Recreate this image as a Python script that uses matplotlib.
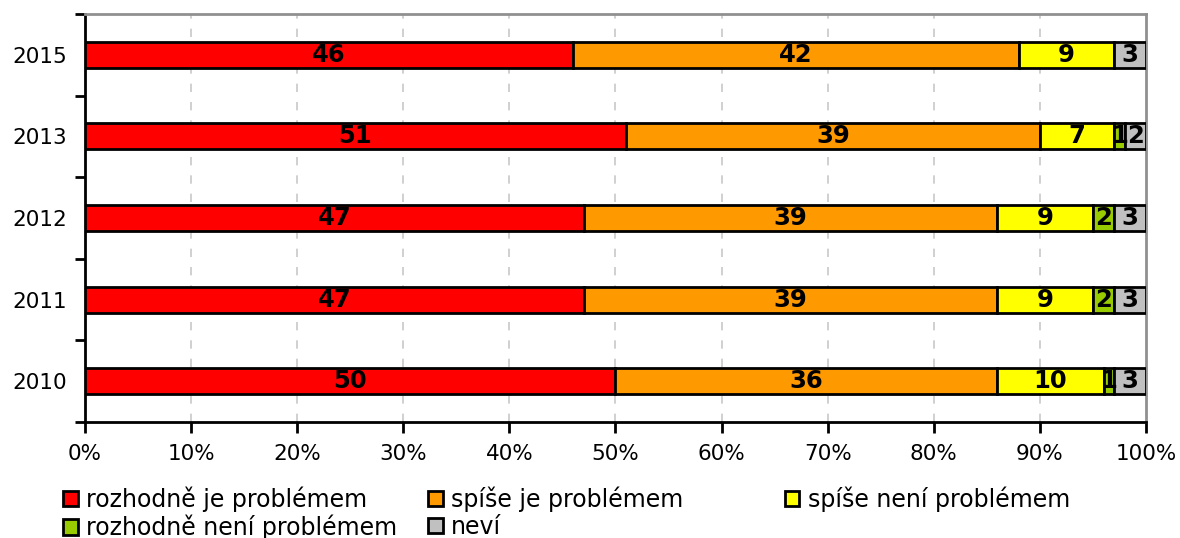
import matplotlib.pyplot as plt
import matplotlib.patches as mpatches
import numpy as np

years = ["2015", "2013", "2012", "2011", "2010"]
categories = [
    "rozhodně je problémem",
    "spíše je problémem",
    "spíše není problémem",
    "rozhodně není problémem",
    "neví",
]
rozhodne_je = [46, 51, 47, 47, 50]
spise_je = [42, 39, 39, 39, 36]
spise_neni = [9, 7, 9, 9, 10]
rozhodne_neni = [0, 1, 2, 2, 1]
nevi = [3, 2, 3, 3, 3]
colors = ["#FF0000", "#FF9900", "#FFFF00", "#99CC00", "#C0C0C0"]

series = [rozhodne_je, spise_je, spise_neni, rozhodne_neni, nevi]

plt.rcParams["font.family"] = ["DejaVu Sans"]

fig = plt.figure(figsize=(11.8, 5.38), dpi=100)
ax = fig.add_axes([0.072, 0.2156, 0.8992, 0.7584])

y = np.arange(len(years))
left = np.zeros(len(years))
handles = []
for vals, col, name in zip(series, colors, categories):
    vals = np.array(vals, dtype=float)
    ax.barh(y, vals, left=left, height=0.32, color=col,
            edgecolor="black", linewidth=2, zorder=3)
    for yi, l, v in zip(y, left, vals):
        if v > 0:
            ax.text(l + v / 2, yi, f"{v:.0f}", ha="center", va="center",
                    fontsize=17.5, fontweight="bold", color="black", zorder=4)
    left += vals
    handles.append(mpatches.Patch(facecolor=col, edgecolor="black",
                                  linewidth=2, label=name))

ax.set_xlim(0, 100)
ax.set_ylim(len(years) - 0.5, -0.5)

ax.set_xticks(np.arange(0, 101, 10))
ax.set_xticklabels([f"{v}%" for v in range(0, 101, 10)])
ax.tick_params(axis="x", direction="out", length=8, width=2,
               labelsize=15.5, pad=8, color="black")

ax.set_yticks(y)
ax.set_yticklabels(years)
ax.set_yticks(np.arange(-0.5, len(years)), minor=True)
ax.tick_params(axis="y", which="major", length=0, labelsize=15.5, pad=13)
ax.tick_params(axis="y", which="minor", direction="out", length=7, width=2)

for xv in range(10, 100, 10):
    ax.axvline(xv, color="#C8C8C8", linestyle=(0, (5, 6)), linewidth=1.2,
               zorder=1)

ax.spines["left"].set_linewidth(2)
ax.spines["bottom"].set_linewidth(2)
ax.spines["top"].set_color("#909090")
ax.spines["top"].set_linewidth(2)
ax.spines["right"].set_color("#909090")
ax.spines["right"].set_linewidth(2)

# legend in three columns, filled row by row
legend_cols = [[handles[0], handles[3]], [handles[1], handles[4]], [handles[2]]]
col_x = [0.0534, 0.3627, 0.665]
for hs, xpos in zip(legend_cols, col_x):
    fig.legend(handles=hs, loc="upper left",
               bbox_to_anchor=(xpos, 0.096), frameon=False,
               fontsize=17, handlelength=0.62, handleheight=0.62,
               handletextpad=0.35, labelspacing=0.12, borderpad=0,
               borderaxespad=0)

fig.savefig("out.png", dpi=100)
